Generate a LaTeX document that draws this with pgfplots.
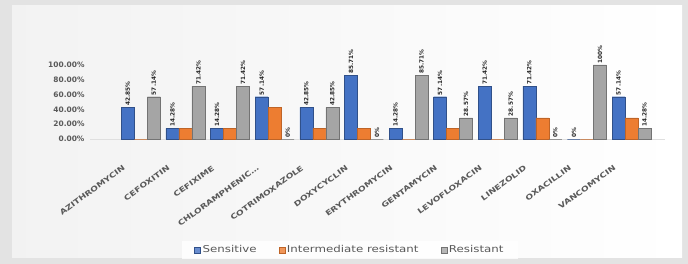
\documentclass[border=0pt]{standalone}
\usepackage{fontspec}
\setmainfont{DejaVu Sans}
\newfontfamily\widefont[FakeStretch=1.25]{DejaVu Sans}
\usepackage{pgfplots}
\pgfplotsset{compat=1.18}
\definecolor{cblue}{RGB}{68,114,196}
\definecolor{corange}{RGB}{237,125,49}
\definecolor{cgrey}{RGB}{165,165,165}
\definecolor{ctext}{RGB}{89,89,89}
\begin{document}
\begin{tikzpicture}
\useasboundingbox (0,0) rectangle (688bp,264bp);
\fill[gray!22] (0,0) rectangle (688bp,264bp);
\shade[left color=gray!10, right color=white] (12bp,6bp) rectangle (682bp,258bp);
\begin{axis}[
  at={(90bp,125bp)}, anchor=south west,
  scale only axis, width=575bp, height=74bp,
  ybar=0pt, bar width=13bp,
  xmin=-1.14, xmax=11.75, ymin=0, ymax=100,
  axis x line*=bottom, axis y line=none,
  ytick={0,20,40,60,80,100},
  ymajorgrids, grid style={gray!25},
  clip=false,
  xtick={0,...,11},
  xticklabels={AZITHROMYCIN,CEFOXITIN,CEFIXIME,{CHLORAMPHENIC\ldots},COTRIMOXAZOLE,DOXYCYCLIN,ERYTHROMYCIN,GENTAMYCIN,LEVOFLOXACIN,LINEZOLID,OXACILLIN,VANCOMYCIN},
  xticklabel style={rotate=36, anchor=north east, inner sep=1pt, font=\widefont\bfseries\fontsize{7.3}{8}\selectfont, text=ctext, yshift=-9bp, xshift=-29bp},
  major tick length=0pt,
  axis line style={gray!40},
  every node near coord/.append style={rotate=90, anchor=west, font=\bfseries\fontsize{5.8}{6}\selectfont, text=black!85, inner sep=1.5pt},
  legend style={at={(0.452,-1.50)}, anchor=center, legend columns=3, draw=none, fill=white, fill opacity=0.8, text opacity=1, font=\widefont\fontsize{9.5}{11}\selectfont, text=ctext, inner ysep=3bp, inner xsep=12bp, /tikz/every even column/.append style={column sep=20bp}},
  area legend,
  legend image code/.code={\fill[#1] (0bp,-3bp) rectangle (6bp,3bp);},
]
\draw[gray!25] (axis cs:-1.14,0) -- (axis cs:11.75,0);
\addplot[fill=cblue, draw=cblue!70!black, nodes near coords, point meta=explicit symbolic] coordinates {
(0,42.85) [42.85\%] (1,14.28) [14.28\%] (2,14.28) [14.28\%] (3,57.14) [57.14\%]
(4,42.85) [42.85\%] (5,85.71) [85.71\%] (6,14.28) [14.28\%] (7,57.14) [57.14\%]
(8,71.42) [71.42\%] (9,71.42) [71.42\%] (10,0) [0\%] (11,57.14) [57.14\%]};
\addplot[fill=corange, draw=corange!80!black] coordinates {
(0,0) (1,14.28) (2,14.28) (3,42.85) (4,14.28) (5,14.28) (6,0) (7,14.28)
(8,0) (9,28.57) (10,0) (11,28.57)};
\addplot[fill=cgrey, draw=cgrey!70!black, nodes near coords, point meta=explicit symbolic] coordinates {
(0,57.14) [57.14\%] (1,71.42) [71.42\%] (2,71.42) [71.42\%] (3,0) [0\%]
(4,42.85) [42.85\%] (5,0) [0\%] (6,85.71) [85.71\%] (7,28.57) [28.57\%]
(8,28.57) [28.57\%] (9,0) [0\%] (10,100) [100\%] (11,14.28) [14.28\%]};
\legend{Sensitive,Intermediate resistant,Resistant}
\end{axis}
\begin{axis}[
  at={(90bp,125bp)}, anchor=south west,
  scale only axis, width=575bp, height=74bp,
  ymin=0, ymax=100, xmin=0, xmax=1,
  axis x line=none, axis y line*=left, y axis line style={draw=none},
  ytick={0,20,40,60,80,100}, major tick length=0pt,
  /pgf/number format/assume math mode=true,
  yticklabel={\pgfmathprintnumber[fixed,fixed zerofill,precision=2]{\tick}\%},
  yticklabel style={font=\bfseries\fontsize{7.5}{8}\selectfont, text=ctext, xshift=-2bp},
]
\addplot[draw=none] coordinates {(0,0)};
\end{axis}
\end{tikzpicture}
\end{document}
